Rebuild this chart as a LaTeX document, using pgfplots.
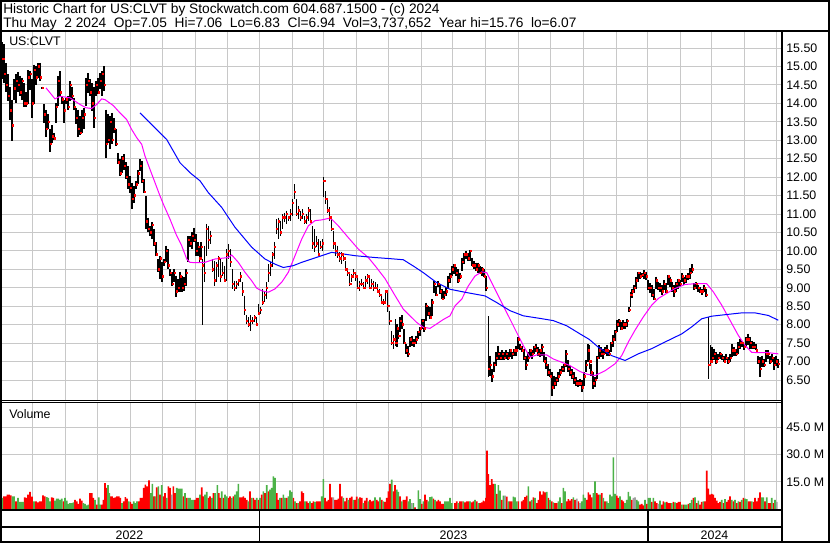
\documentclass[border=0pt]{standalone}
\usepackage{fontspec}
\setmainfont{Liberation Sans}
\usepackage{pgfplots}
\usepackage{pgfplotstable}
\pgfplotsset{compat=1.18}
\definecolor{gridc}{RGB}{200,200,200}
\definecolor{upg}{RGB}{76,178,72}
\definecolor{dnr}{RGB}{255,0,0}
\definecolor{neu}{RGB}{160,160,160}
\definecolor{mag}{RGB}{255,0,255}
\definecolor{blu}{RGB}{0,0,255}
\newcommand\tf{\fontsize{10.3}{12}\selectfont}
\newcommand\lf{\fontsize{9.3}{11}\selectfont}

\pgfplotstableread{
x hi lo cl
2.7 15.65 14.65 15.2
4 15.6 14.55 14.8
6 15.1 14.3 14.5
8 14.8 14.05 14.2
10 14.45 13.55 13.8
12 14.1 12.98 13.4
14 14.65 14.1 14.4
16 14.8 14.0 14.6
18 14.85 14.3 14.5
20 14.75 14.2 14.3
22 14.7 14.1 14.6
24 14.55 13.9 14.0
26 14.3 13.9 14.0
28 14.9 13.97 14.7
30 14.87 14.37 14.8
32 14.65 13.6 14.0
34 15.05 13.97 14.9
36 15.0 14.5 14.7
38 15.1 14.7 15.0
40 15.1 14.6 14.7
42 14.45 14.4 14.42
44 13.97 13.47 13.7
46 13.83 13.1 13.3
48 13.7 13.3 13.5
50 13.3 12.67 12.9
52 13.4 12.93 13.1
54 13.2 13.0 13.05
56 14.0 13.47 13.9
58 14.73 13.92 14.6
60 14.87 14.2 14.3
62 14.2 13.97 14.1
64 14.1 13.47 13.8
66 14.15 13.97 14.1
68 14.2 13.83 13.9
70 14.6 14.05 14.5
72 14.45 14.1 14.2
74 14.15 13.83 13.9
76 13.88 13.43 13.6
78 13.83 13.1 13.3
80 13.65 13.15 13.2
82 13.83 13.2 13.6
84 13.88 13.3 13.7
86 14.7 13.92 14.5
88 14.82 14.28 14.6
90 14.65 14.2 14.3
92 14.55 13.8 14.0
94 14.45 13.33 13.6
96 14.6 14.2 14.5
98 14.7 14.24 14.3
100 14.82 14.4 14.6
102 14.87 14.2 14.8
104 15.0 14.33 14.5
106 13.83 12.53 12.9
108 13.7 12.93 13.0
110 13.65 12.75 13.5
112 13.74 12.9 13.0
114 13.6 13.2 13.3
116 13.3 12.85 12.9
118 12.66 12.35 12.4
120 12.48 12.03 12.1
122 12.57 12.12 12.5
124 12.62 12.2 12.3
126 12.4 11.95 12.0
128 12.3 11.68 11.8
130 12.03 11.58 11.7
132 11.85 11.13 11.4
134 11.76 11.3 11.5
136 11.9 11.68 11.8
138 12.2 11.8 12.1
140 12.48 12.17 12.3
142 12.44 11.85 11.9
144 11.94 11.58 11.6
146 11.5 10.6 10.8
148 10.9 10.5 10.6
150 10.68 10.41 10.5
152 10.77 10.32 10.7
154 10.6 10.14 10.2
156 10.23 9.87 9.9
158 9.78 9.42 9.5
160 9.87 9.24 9.8
162 9.69 9.15 9.3
164 9.78 9.6 9.7
166 10.14 9.69 10.0
168 10.05 9.5 9.6
170 9.5 9.33 9.4
172 9.42 9.06 9.1
174 9.5 9.15 9.4
176 9.33 8.74 8.9
178 9.24 8.88 9.0
180 9.42 8.88 9.3
182 9.33 8.88 9.0
184 9.28 8.92 9.1
186 9.5 9.06 9.4
188 10.41 9.69 10.3
190 10.41 10.1 10.2
192 10.5 10.05 10.4
194 10.63 10.23 10.3
196 10.45 9.87 10.0
198 10.23 9.87 10.1
199.5 10.14 9.69 9.8
201 10.23 9.78 10.1
202.3 9.78 7.98 9.6
204.3 10.14 9.15 9.4
206.3 10.73 9.87 10.6
208.3 10.68 10.05 10.3
210.3 10.55 10.18 10.4
212.3 9.78 9.42 9.5
214.3 9.73 9.06 9.2
216.3 9.69 9.15 9.6
218.3 9.87 9.28 9.8
220.3 9.78 9.15 9.3
222.3 9.69 9.33 9.4
224.3 9.6 9.15 9.2
226.3 10.05 9.19 9.9
228.3 10.18 9.78 10.0
230.3 10.05 9.55 9.7
232.3 9.51 8.97 9.1
234.3 9.19 8.92 9.0
236.3 9.19 8.97 9.1
238.3 9.24 9.06 9.2
240.3 9.42 9.15 9.3
242.3 9.15 8.79 8.9
244.3 8.79 8.25 8.4
246.3 8.25 8.02 8.1
248.3 8.2 7.93 8.0
250.3 8.25 7.84 8.1
252.3 8.2 8.02 8.1
254.3 8.25 8.07 8.2
256.3 8.2 7.98 8.0
258.3 8.56 8.25 8.3
260.3 8.47 8.29 8.4
262.3 8.97 8.52 8.6
264.3 8.88 8.61 8.8
266.3 9.15 8.7 9.0
268.3 9.64 9.15 9.4
270.3 9.69 9.33 9.6
272.3 9.96 9.55 9.9
274.3 10.23 9.78 10.1
276.3 10.86 10.45 10.6
278.3 10.9 10.32 10.8
280.3 10.82 10.41 10.5
282.3 11.0 10.59 10.9
284.3 11.04 10.77 10.9
286.3 11.09 10.73 11.0
288.3 10.95 10.82 10.9
290.3 11.13 10.82 11.0
292.3 11.4 10.95 11.3
294.3 11.8 11.4 11.6
296.3 11.4 10.95 11.0
298.3 11.22 10.86 11.1
300.3 11.09 10.82 10.9
302.3 11.13 10.86 11.0
304.3 10.95 10.73 10.8
306.3 11.0 10.73 10.9
308.3 11.18 10.82 11.1
310.3 11.13 10.77 10.8
312.3 10.68 10.05 10.2
314.3 10.59 9.96 10.1
316.3 10.41 10.1 10.2
318.3 10.32 9.87 9.9
320.3 10.28 10.05 10.1
322.3 10.32 10.0 10.2
323.7 11.99 11.45 11.9
325.7 11.63 11.27 11.4
327.7 11.4 11.04 11.1
329.7 11.18 10.82 10.9
331.7 10.95 10.55 10.6
333.7 10.55 10.05 10.2
335.7 10.23 9.87 10.0
337.7 10.14 9.82 9.9
339.7 9.96 9.69 9.8
341.7 9.96 9.64 9.9
343.7 9.87 9.73 9.8
345.7 9.73 9.46 9.5
347.7 9.51 9.33 9.4
349.7 9.42 9.06 9.1
351.7 9.37 9.15 9.3
353.7 9.51 9.28 9.4
355.7 9.42 9.19 9.3
357.7 9.28 8.97 9.0
359.7 9.19 8.92 9.1
361.7 9.24 9.06 9.1
363.7 9.15 8.97 9.0
365.7 9.33 9.01 9.2
367.7 9.37 9.1 9.3
369.7 9.33 8.97 9.0
371.7 9.24 9.01 9.1
373.7 9.19 8.92 9.0
375.7 9.15 8.97 9.0
377.7 9.1 8.88 8.9
379.7 8.97 8.74 8.8
381.7 8.83 8.56 8.6
383.7 8.7 8.52 8.6
385.7 8.92 8.61 8.9
387.7 8.88 8.34 8.5
389.7 8.38 7.98 8.1
391.7 7.84 7.44 7.5
393.7 7.71 7.35 7.6
395.5 8.15 7.43 7.5
397 8.02 7.39 7.9
398.5 7.88 7.61 7.7
400 8.2 7.79 8.1
402 8.26 7.88 8.0
404 7.88 7.48 7.5
406 7.48 7.21 7.3
408 7.43 7.12 7.2
410 7.66 7.39 7.6
412 7.7 7.43 7.5
414 7.61 7.39 7.5
416 7.7 7.48 7.6
418 7.84 7.61 7.8
420 7.93 7.7 7.9
422 8.15 7.88 8.1
424 8.15 7.79 7.9
426 8.6 8.11 8.5
428 8.51 8.24 8.3
430 8.47 8.15 8.2
432 8.69 8.24 8.6
434 9.19 8.87 9.1
436 9.05 8.78 8.8
438 9.19 9.01 9.1
440 9.1 8.83 8.9
442 8.96 8.69 8.7
444 8.92 8.69 8.8
446 9.01 8.78 8.9
448 9.32 8.96 9.2
450 9.41 9.14 9.3
452 9.59 9.32 9.5
454 9.64 9.37 9.6
456 9.55 9.32 9.4
458 9.5 9.14 9.2
460 9.41 9.23 9.3
462 9.82 9.46 9.7
464 9.95 9.64 9.9
466 10.0 9.77 9.9
468 9.95 9.73 9.8
470 10.03 9.73 10.0
472 9.82 9.59 9.6
474 9.73 9.5 9.6
476 9.68 9.46 9.5
478 9.68 9.41 9.6
480 9.59 9.37 9.4
482 9.55 9.32 9.5
484 9.5 9.28 9.3
486 9.32 8.92 9.0
488.3 8.23 6.58 6.8
490 7.16 6.62 6.9
492 6.8 6.44 6.6
494 6.98 6.71 6.9
496 7.25 6.89 7.1
498 7.43 7.03 7.2
500 7.25 7.03 7.1
502 7.3 7.03 7.2
504 7.25 7.03 7.1
506 7.3 7.07 7.2
508 7.25 7.03 7.1
510 7.34 7.12 7.3
512 7.25 7.07 7.2
514 7.34 7.16 7.3
516 7.43 7.16 7.3
518 7.66 7.34 7.6
520 7.48 7.3 7.4
522 7.43 7.25 7.3
524 7.34 7.03 7.1
526 7.16 6.76 6.9
528 7.25 6.98 7.1
530 7.34 7.12 7.3
532 7.3 7.07 7.2
534 7.43 7.21 7.4
536 7.48 7.25 7.3
538 7.39 7.16 7.2
540 7.34 7.12 7.3
542 7.48 7.16 7.4
544 7.25 6.98 7.0
546 7.12 6.8 6.9
548 6.94 6.62 6.7
550 6.8 6.58 6.6
552 6.71 6.08 6.3
554 6.62 6.26 6.4
556 6.58 6.35 6.5
558 6.71 6.44 6.6
560 6.8 6.62 6.7
562 6.89 6.71 6.8
564 6.94 6.71 6.9
566 7.3 6.85 7.2
568 7.03 6.71 6.8
570 6.89 6.62 6.7
572 6.8 6.53 6.6
574 6.71 6.4 6.5
576 6.58 6.35 6.4
578 6.49 6.31 6.4
580 6.53 6.35 6.4
582 6.49 6.17 6.3
584 6.71 6.35 6.6
586 7.03 6.71 6.9
588 7.48 6.98 7.3
589.5 7.44 6.8 7.0
591 6.94 6.62 6.7
593 6.71 6.25 6.4
595 6.57 6.3 6.5
597 7.16 6.53 7.1
599 7.44 7.07 7.3
601 7.39 7.12 7.2
603 7.35 7.07 7.2
605 7.39 7.21 7.3
607 7.44 7.16 7.3
609 7.3 7.16 7.2
611 7.53 7.25 7.5
613 7.71 7.39 7.6
615 7.85 7.57 7.8
617 8.12 7.8 8.0
619 8.16 7.94 8.1
621 8.07 7.85 7.9
623 8.12 7.89 8.0
625 8.07 7.89 8.0
627 8.16 7.94 8.1
629 8.48 8.35 8.4
630.5 8.89 8.48 8.8
632 8.98 8.71 8.9
634 9.07 8.85 9.0
636 9.3 8.98 9.2
638 9.44 9.16 9.4
640 9.44 9.25 9.3
642 9.39 9.3 9.35
644 9.48 9.25 9.4
646 9.44 9.21 9.3
648 9.21 8.94 9.0
650 9.12 8.85 9.0
652 9.07 8.75 8.8
654 8.98 8.66 8.7
656 9.3 8.98 9.2
658 9.16 8.94 9.0
660 9.12 8.89 9.0
662 9.07 8.8 8.9
664 9.21 8.94 9.1
666 9.12 8.85 8.9
668 9.35 9.07 9.3
670 9.3 9.02 9.2
672 9.16 8.89 9.0
674 9.07 8.75 8.9
676 9.16 8.89 9.1
678 9.25 8.98 9.2
680 9.21 9.02 9.1
682 9.39 9.16 9.3
684 9.3 9.07 9.2
686 9.35 9.12 9.3
688 9.39 9.21 9.3
690 9.53 9.25 9.4
692 9.64 9.39 9.5
694 9.12 8.94 9.0
696 9.16 8.98 9.1
698 9.07 8.89 9.0
700 9.02 8.85 8.9
702 8.98 8.8 8.9
704 9.07 8.89 9.0
706 8.98 8.75 8.8
708.7 8.21 6.53 6.9
710.5 7.44 6.89 7.0
712 7.39 6.98 7.1
714 7.35 7.03 7.2
716 7.25 6.94 7.0
718 7.21 7.03 7.1
720 7.25 7.07 7.2
722 7.21 7.03 7.1
724 7.16 6.98 7.0
726 7.21 7.03 7.1
728 7.12 6.94 7.0
730 7.21 6.98 7.1
732 7.48 7.12 7.3
734 7.39 7.16 7.3
736 7.35 7.16 7.2
738 7.53 7.21 7.4
740 7.62 7.35 7.5
742 7.57 7.39 7.5
744 7.48 7.3 7.4
746 7.67 7.39 7.6
748 7.76 7.44 7.6
750 7.67 7.35 7.5
752 7.57 7.35 7.4
754 7.53 7.35 7.4
756 7.48 7.3 7.3
758 7.16 6.94 7.0
760 7.12 6.57 6.8
762 7.16 6.85 7.0
764 7.07 6.85 6.9
766 7.3 6.98 7.2
768 7.3 7.07 7.2
770 7.16 6.94 7.0
772 7.21 6.98 7.1
774 7.12 6.76 6.9
776 7.16 6.89 7.0
778 7.06 6.83 6.94
}\pricedata

\pgfplotstableread{
x ma
46 14.42
55 14.12
60 14.19
70 14.15
80 13.97
86 13.88
91.7 13.86
96.7 13.97
101.7 14.12
105 14.1
113.3 13.94
120 13.74
126.7 13.56
131.7 13.29
136.7 13.07
141.7 12.89
145 12.57
150 12.21
155 11.85
160 11.49
163.3 11.27
170 10.86
176.7 10.41
181.7 10.14
186.7 9.78
190 9.69
195 9.68
205 9.69
215 9.78
228.3 9.82
231.7 9.89
238.3 9.69
245 9.42
251.7 9.19
256.7 8.99
261.7 8.92
268.3 8.88
275 8.97
281.7 9.15
288.3 9.42
295 9.87
301.7 10.32
308.3 10.68
315 10.82
321.7 10.84
328.3 10.88
331.7 10.86
338.3 10.68
348.3 10.36
358.3 10.05
368.3 9.82
375 9.6
385 9.25
395 8.79
403.3 8.42
410 8.24
416.7 8.06
423.3 7.93
430 7.9
436.7 8.02
443.3 8.14
450 8.24
455 8.51
461.7 8.69
468.3 9.05
475 9.32
481.7 9.43
486.7 9.41
491.7 9.14
498.3 8.78
505 8.42
510 8.15
518.3 7.7
523.3 7.43
530 7.12
536.7 7.18
546.7 7.18
553.3 7.07
560 7.0
570 6.89
580 6.73
586.7 6.66
595 6.62
605 6.75
615 6.94
621.7 7.16
628.3 7.53
635 7.85
643.3 8.21
651.7 8.53
658.3 8.71
666.7 8.85
675 8.98
685 9.09
695 9.11
706.7 9.11
713.3 8.89
721.7 8.53
730 8.12
738.3 7.71
745 7.44
751.7 7.25
758.3 7.24
768.3 7.24
778.3 7.21
}\mafast

\pgfplotstableread{
x ma
140 13.74
153.3 13.38
166.7 13.02
180 12.39
190 12.12
200 11.9
208.3 11.58
221.7 11.18
235 10.64
251.7 10.1
265 9.78
275 9.64
283.3 9.55
293.3 9.6
301.7 9.69
311.7 9.78
321.7 9.87
331.7 9.96
345 9.91
355 9.87
375 9.82
390 9.79
403.3 9.76
413.3 9.59
423.3 9.41
436.7 9.14
450 8.96
466.7 8.87
485 8.78
496.7 8.6
510 8.38
523.3 8.24
540 8.17
553.3 8.11
566.7 7.97
580 7.75
589.3 7.6
598.3 7.39
611.7 7.16
625 7.03
638.3 7.21
651.7 7.35
665 7.53
681.7 7.75
691.7 7.94
701.7 8.16
711.7 8.23
728.3 8.28
741.7 8.32
755 8.32
768.3 8.25
778.3 8.12
}\maslow

% volume in millions; c: 0 down (red), 1 up (green), 2 unchanged (gray)
\pgfplotstableread{
x v c
0.7 6.6 2
2.3 6.1 1
4.0 7.0 0
5.7 7.0 0
7.3 7.9 0
9.0 7.9 0
10.7 7.5 0
12.3 7.0 1
14.0 7.0 1
16.0 4.2 0
18.0 6.1 1
20.0 3.9 1
21.7 3.9 1
23.3 3.9 1
24.7 6.4 0
26.3 6.1 0
28.0 7.9 0
30.0 9.4 0
32.0 6.8 0
34.0 4.2 1
36.0 4.2 0
38.0 3.7 0
39.7 4.2 0
41.3 4.2 0
43.0 7.5 0
44.7 7.0 0
46.7 6.6 1
48.3 6.1 1
50.0 4.2 1
51.7 6.4 0
53.3 6.1 0
55.0 4.6 1
56.7 5.7 1
58.3 5.7 1
60.0 5.1 1
61.7 5.7 1
63.3 4.2 0
65.0 6.1 1
66.7 4.6 1
68.3 2.8 1
70.0 3.3 1
71.7 3.3 1
73.3 3.7 1
75.0 5.1 0
76.7 4.2 0
78.3 2.8 0
80.0 5.7 0
81.7 4.6 0
83.3 3.3 1
85.0 2.8 1
86.7 2.0 1
88.3 2.4 1
90.0 8.8 0
91.7 8.8 0
93.3 6.1 0
95.0 5.1 1
96.7 2.4 0
98.7 6.4 1
100.0 2.4 1
101.7 2.4 0
103.3 5.1 0
105.0 14.3 0
106.7 11.6 0
108.0 13.1 1
109.3 8.8 1
110.7 7.0 0
112.0 7.0 0
113.7 6.1 0
115.3 6.4 0
117.0 7.0 0
118.7 7.0 0
120.3 6.1 0
122.0 3.3 1
123.7 4.2 0
125.3 6.6 0
127.0 5.7 0
128.7 4.2 1
130.3 3.9 0
132.0 2.8 0
133.7 4.2 1
135.3 3.3 1
137.0 4.2 1
138.7 4.2 0
140.3 6.1 0
142.0 6.1 0
143.7 11.6 0
145.3 13.4 0
147.0 12.5 0
149.0 15.8 0
150.7 8.8 1
152.3 13.8 1
154.0 7.0 0
155.3 7.0 1
156.7 11.9 0
158.3 12.5 1
160.0 7.9 0
161.7 13.1 1
163.3 7.0 0
165.0 8.8 0
166.7 6.1 1
168.3 12.5 0
170.0 11.6 0
171.7 7.9 2
173.3 12.5 0
175.0 8.8 0
176.7 11.6 1
178.3 11.2 1
180.0 11.2 1
181.7 11.2 1
183.3 7.0 0
185.0 8.8 1
186.7 6.1 0
188.3 6.1 1
190.0 6.1 1
191.7 5.1 1
193.3 5.1 1
195.0 5.1 0
196.7 6.1 0
198.3 6.1 0
200.0 7.9 1
201.7 11.9 0
203.3 7.0 0
205.0 7.9 1
206.7 9.4 1
208.3 6.1 0
210.0 7.0 0
212.0 6.1 1
213.3 8.8 0
215.0 8.8 1
217.3 13.1 1
218.7 8.8 0
220.0 6.1 0
221.7 9.7 1
223.3 6.1 0
225.0 7.9 1
226.7 7.0 1
228.3 6.1 0
230.0 7.0 0
231.7 6.1 1
233.3 7.0 0
235.0 7.9 1
236.7 9.7 1
238.3 13.8 1
240.0 6.4 0
241.7 6.4 0
243.3 7.0 0
245.0 6.1 0
246.7 5.1 0
248.3 4.2 1
250.0 9.7 0
251.7 6.1 1
253.3 6.1 0
255.0 5.1 0
256.7 6.1 1
258.3 5.1 0
260.0 6.1 1
261.7 7.9 0
263.3 9.7 1
265.0 8.8 0
266.7 13.1 1
268.3 9.7 0
270.0 10.7 1
271.7 11.6 1
273.3 18.0 1
275.0 17.1 1
276.7 8.8 0
278.3 5.1 0
280.0 6.1 1
281.7 6.1 0
283.3 7.9 1
285.0 6.1 1
286.7 6.1 0
288.3 7.0 1
290.0 10.3 1
291.7 9.4 1
293.3 6.1 0
295.0 4.2 1
296.7 3.3 0
298.3 3.3 1
300.0 4.2 0
301.7 9.7 0
303.3 8.8 0
305.0 4.2 1
306.7 4.2 0
308.3 3.3 0
310.0 4.2 1
311.7 3.3 0
313.3 4.2 0
315.0 3.9 1
316.7 4.2 0
318.3 4.2 0
320.0 4.2 0
321.7 7.0 1
323.3 16.5 1
325.0 6.1 0
326.7 4.2 0
328.3 5.1 0
330.0 13.8 0
331.7 6.4 0
333.3 6.4 2
335.0 5.1 0
336.7 5.1 0
338.3 5.7 0
340.0 13.8 0
341.7 7.0 0
343.3 6.1 1
345.0 4.2 0
346.7 6.1 0
348.3 5.1 1
350.0 6.1 0
351.7 6.8 0
353.3 5.1 1
355.0 5.1 0
356.7 6.8 0
358.3 5.7 1
360.0 6.4 0
361.7 6.1 0
363.3 3.3 1
365.0 4.6 0
366.7 6.1 0
368.3 4.2 1
370.0 5.1 0
371.7 4.2 0
373.3 4.6 0
375.0 6.4 1
376.7 5.1 0
378.3 4.2 0
380.0 6.4 1
381.7 5.1 0
383.3 4.2 1
385.0 3.9 0
386.7 6.1 0
388.3 9.7 0
390.0 13.8 0
391.7 16.2 1
393.3 9.7 0
395.0 13.1 0
396.7 10.7 1
398.3 9.4 1
400.0 7.0 0
401.7 4.2 1
403.3 5.1 0
405.0 5.1 0
406.7 7.0 0
408.3 4.2 1
410.0 5.5 1
411.7 3.3 2
413.3 3.3 1
415.0 0.9 0
418.3 10.3 1
420.0 5.5 1
421.7 2.8 0
423.3 4.2 1
425.0 7.9 0
426.7 5.1 0
428.3 4.2 1
430.0 6.6 1
431.7 6.8 1
433.3 5.7 0
435.0 5.1 1
436.7 4.2 0
438.3 5.1 0
440.0 4.2 0
441.7 2.8 0
443.3 2.8 0
445.0 4.2 1
446.7 4.2 1
448.3 4.2 1
450.0 6.1 1
451.7 3.3 1
455.0 3.3 0
456.7 4.2 0
458.3 3.3 1
460.0 4.2 0
461.7 4.2 0
463.3 4.2 1
465.0 3.7 0
466.7 4.2 0
468.3 4.2 0
470.0 4.2 1
471.7 3.7 0
473.3 4.2 0
475.0 5.1 1
476.7 4.2 0
478.3 3.3 1
480.0 3.3 0
481.7 3.7 0
483.3 4.6 0
485.0 4.2 0
486.0 6.1 0
487.0 32.2 0
488.3 19.3 0
490.0 13.1 0
491.7 16.5 0
493.3 13.8 0
495.0 13.8 1
496.7 8.3 0
498.3 13.1 1
500.0 10.1 1
501.7 5.1 0
503.3 7.4 1
505.0 7.4 2
506.7 6.8 0
508.3 4.2 1
510.0 4.2 0
511.7 4.2 0
513.3 6.8 1
515.0 6.4 1
516.7 4.2 1
518.3 4.2 0
521.7 4.2 0
523.3 5.1 0
525.0 6.6 0
526.7 7.4 0
528.3 12.5 1
530.0 4.2 0
531.7 5.1 1
533.3 6.4 0
535.0 6.1 1
536.7 3.3 0
538.3 5.1 0
540.0 9.7 0
541.7 7.9 0
543.3 9.7 0
545.0 9.2 0
546.7 9.4 1
548.3 6.1 0
550.0 5.1 1
551.7 4.2 0
553.3 3.7 1
555.0 3.3 0
556.7 3.3 0
558.3 4.2 1
560.0 6.4 1
561.7 3.3 0
563.3 11.6 1
565.0 9.7 1
566.7 4.2 0
568.3 5.5 0
570.0 4.6 0
571.7 5.5 0
573.3 6.4 1
575.0 5.1 0
576.7 5.7 2
578.3 4.2 0
580.0 3.3 2
581.7 4.2 1
583.3 7.9 1
585.0 6.1 1
586.7 5.1 0
588.3 9.2 0
590.0 7.9 0
591.7 6.4 0
593.3 8.8 1
595.0 15.3 1
596.7 8.8 0
598.3 7.9 0
600.0 7.9 1
601.7 8.8 0
603.3 6.1 1
605.0 4.2 0
606.7 4.2 1
608.3 3.3 1
610.0 7.9 1
611.7 7.0 1
613.3 28.5 1
615.0 8.3 1
616.7 7.4 0
618.3 6.1 0
620.0 7.0 1
621.7 5.1 0
623.3 4.2 0
625.0 3.3 1
626.7 5.1 1
628.3 9.4 1
630.0 7.0 1
631.7 5.1 0
633.3 6.1 2
635.0 6.4 2
636.7 5.1 1
638.3 4.2 1
640.0 2.4 0
641.7 2.8 0
643.3 2.0 0
645.0 5.1 1
646.7 2.8 0
648.3 6.1 1
650.0 6.1 1
651.7 3.9 0
653.3 6.1 1
655.0 4.2 0
656.7 3.3 0
658.3 2.8 2
660.0 4.6 1
661.7 2.4 0
663.3 4.2 0
665.0 3.7 1
666.7 3.9 0
668.3 3.3 0
670.0 3.3 0
671.7 3.3 1
673.3 3.9 0
675.0 3.7 1
676.7 3.3 0
678.3 3.9 0
680.0 3.9 0
681.7 2.4 1
683.3 2.4 0
685.0 2.4 1
686.7 2.4 1
688.3 2.8 0
690.0 3.3 1
691.7 5.1 1
693.3 6.1 0
695.0 6.4 1
696.7 3.3 0
698.3 4.6 1
700.0 2.4 0
701.7 3.9 0
703.3 4.2 1
705.0 4.2 0
706.7 21.1 0
708.3 11.2 0
710.0 7.9 0
711.7 8.3 0
713.3 7.9 0
715.0 6.1 0
716.7 4.6 0
718.3 3.3 0
720.0 3.9 0
721.7 5.1 1
723.3 3.3 0
725.0 5.5 1
726.7 3.9 0
728.3 5.1 0
730.0 7.0 0
731.7 5.1 1
733.3 4.2 0
735.0 5.1 1
736.7 3.3 0
738.3 4.2 1
740.0 3.9 0
741.7 5.1 1
743.3 6.1 0
745.0 5.7 1
746.7 5.5 1
748.3 4.2 0
750.0 4.2 0
751.7 4.2 1
753.3 3.9 0
755.0 6.1 0
756.7 4.2 0
758.3 6.1 0
760.0 9.2 0
761.7 6.4 1
763.3 6.4 1
765.0 4.2 0
766.7 6.4 1
768.3 3.3 0
770.0 3.3 0
771.7 6.1 1
773.3 3.3 0
775.0 5.1 1
776.7 3.9 2
}\voldata

\pgfplotsset{
  chartaxis/.style={
    scale only axis, anchor=south west,
    width=585.75pt, xmin=0, xmax=781,
    axis line style={draw=none},
    xtick={32.3,65,97,130,162,195,227.5,259,292,323,356,388,421,452.5,485.5,518,550,583,616,647.5,680.5,711.7,744.3,776.7},
    xticklabels={},
    grid=major, grid style={gridc, line width=0.75pt},
    major tick length=0pt,
    yticklabel pos=right,
    yticklabel style={anchor=west, inner sep=0pt, xshift=3.75pt, font=\lf},
  }
}

\begin{document}
\begin{tikzpicture}
\useasboundingbox (0,0) rectangle (622.5pt,407.25pt);
\fill[white] (0,0) rectangle (622.5pt,407.25pt);

% price panel
\begin{axis}[chartaxis, at={(0pt,107.25pt)}, height=276.75pt,
  ymin=5.958, ymax=15.961,
  ytick={6.5,7,7.5,8,8.5,9,9.5,10,10.5,11,11.5,12,12.5,13,13.5,14,14.5,15,15.5},
  yticklabels={6.50,7.00,7.50,8.00,8.50,9.00,9.50,10.00,10.50,11.00,11.50,12.00,12.50,13.00,13.50,14.00,14.50,15.00,15.50}]
\addplot[draw=none, mark=none, error bars/.cd, y dir=minus, y explicit, error mark=none,
  error bar style={draw=black, line width=0.85pt}]
  table[x=x, y=hi, y error expr=\thisrow{hi}-\thisrow{lo}] {\pricedata};
\addplot[color=dnr, only marks, mark=square*, mark size=0.55pt, mark options={draw=dnr, fill=dnr, line width=0pt}]
  table[x expr=\thisrow{x}+0.9, y=cl] {\pricedata};
\addplot[mag, line width=0.75pt] table[x=x, y=ma] {\mafast};
\addplot[blu, line width=0.75pt] table[x=x, y=ma] {\maslow};
\end{axis}

% volume panel
\begin{axis}[chartaxis, at={(0pt,25.5pt)}, height=80.25pt,
  ymin=0, ymax=59,
  ytick={15,30,45}, yticklabels={15.0 M,30.0 M,45.0 M}]
\addplot[ybar, bar width=1.6, bar shift=0pt, fill=dnr, draw=none]
  table[x=x, y=v, restrict expr to domain={\thisrow{c}}{0:0}] {\voldata};
\addplot[ybar, bar width=1.6, bar shift=0pt, fill=upg, draw=none]
  table[x=x, y=v, restrict expr to domain={\thisrow{c}}{1:1}] {\voldata};
\addplot[ybar, bar width=1.6, bar shift=0pt, fill=neu, draw=none]
  table[x=x, y=v, restrict expr to domain={\thisrow{c}}{2:2}] {\voldata};
\end{axis}

% frame, separators and texts (pixel coordinates, y downward)
\begin{scope}[x=0.75pt, y=-0.75pt, yshift=407.25pt]
\draw[line width=1.5pt] (1,1) rectangle (829,542);
\draw[line width=1.5pt] (0,31) -- (830,31);
\draw[line width=1.5pt] (782,31) -- (782,543);
\draw[line width=0.75pt] (0,400.3) -- (782,400.3);
\draw[line width=0.75pt] (0,402.6) -- (782,402.6);
\draw[line width=1.5pt] (0,510) -- (782,510);
\draw[line width=1.5pt] (0,527.3) -- (782,527.3);
\draw[line width=1.2pt] (259.3,510) -- (259.3,543);
\draw[line width=1.2pt] (647.7,510) -- (647.7,543);
\node[anchor=base west, inner sep=0pt, font=\tf] at (3,13.8)
  {Historic Chart for US:CLVT by Stockwatch.com 604.687.1500 - (c) 2024};
\node[anchor=base west, inner sep=0pt, font=\tf] at (3,27.8)
  {Thu May\ \ 2 2024\ \ Op=7.05\ \ Hi=7.06\ \ Lo=6.83\ \ Cl=6.94\ \ Vol=3,737,652\ \ Year hi=15.76\ \ lo=6.07};
\node[anchor=base west, inner sep=0pt, font=\lf] at (9,46) {US:CLVT};
\node[anchor=base west, inner sep=0pt, font=\lf] at (9,418) {Volume};
\node[anchor=base, inner sep=0pt, font=\lf] at (129.5,539) {2022};
\node[anchor=base, inner sep=0pt, font=\lf] at (453.5,539) {2023};
\node[anchor=base, inner sep=0pt, font=\lf] at (714.5,539) {2024};
\end{scope}
\end{tikzpicture}
\end{document}
